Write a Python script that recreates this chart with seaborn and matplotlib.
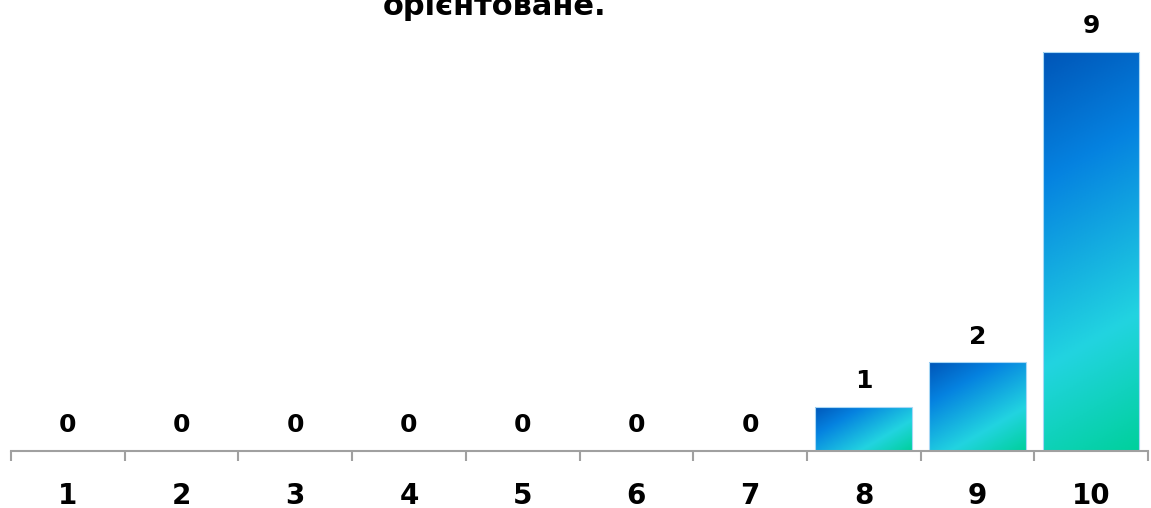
import numpy as np
import pandas as pd
import matplotlib
matplotlib.use("Agg")
import matplotlib.pyplot as plt
import seaborn as sns
from matplotlib.colors import LinearSegmentedColormap

categories = ["1", "2", "3", "4", "5", "6", "7", "8", "9", "10"]
values = [0, 0, 0, 0, 0, 0, 0, 1, 2, 9]
title_text = "орієнтоване."

df = pd.DataFrame({"score": categories, "count": values})

sns.set_style("white")
plt.rcParams["font.family"] = ["DejaVu Sans"]
plt.rcParams["text.color"] = "black"
plt.rcParams["xtick.color"] = "black"

fig = plt.figure(figsize=(11.51, 5.08), dpi=100)
ax = fig.add_axes([11 / 1151, 1 - 451 / 508, (1148 - 11) / 1151, 451 / 508])

sns.barplot(data=df, x="score", y="count", order=categories, ax=ax,
            color="#0080e0", width=0.85, saturation=1)

ax.set_xlim(-0.5, len(categories) - 0.5)
ax.set_ylim(0, 451 / 44.3)

# gradient fill, angled in screen space, stretched to each bar
grad = LinearSegmentedColormap.from_list(
    "g", [(0, "#0056b8"), (0.28, "#0582e0"), (0.7, "#22d4e0"), (1, "#00d09c")])
ang = np.deg2rad(60)
for p in ax.patches:
    h = p.get_height()
    if h <= 0:
        continue
    x0 = p.get_x()
    w = p.get_width()
    (px0, py0), (px1, py1) = ax.transData.transform([(x0, 0), (x0 + w, h)])
    W, H = abs(px1 - px0), abs(py1 - py0)
    xx, yy = np.meshgrid(np.linspace(0, W, 120), np.linspace(0, H, 200))
    t = (xx * np.cos(ang) + yy * np.sin(ang)) / (W * np.cos(ang) + H * np.sin(ang))
    im = ax.imshow(t, cmap=grad, extent=[x0, x0 + w, 0, h], origin="upper",
                   aspect="auto", zorder=p.get_zorder() + 0.1, vmin=0, vmax=1)
    im.set_clip_path(p)
    p.set_edgecolor("#a8d8f5")
    p.set_linewidth(0.8)
    p.set_zorder(p.get_zorder() + 0.2)
    p.set_facecolor("none")

ax.bar_label(ax.containers[0], labels=[str(v) for v in values], padding=10,
             fontsize=18, fontweight="bold", color="black")

ax.set_xlabel("")
ax.set_ylabel("")
ax.set_yticks([])
for s in ["top", "right", "left"]:
    ax.spines[s].set_visible(False)
ax.spines["bottom"].set_color("#a0a0a0")
ax.spines["bottom"].set_linewidth(1.5)
ax.spines["bottom"].set_zorder(5)
ax.set_xticks(np.arange(-0.5, len(categories), 1), minor=True)
ax.tick_params(axis="x", which="minor", length=7, width=1.5, color="#a0a0a0",
               direction="out", bottom=True)
ax.tick_params(axis="x", which="major", length=0, pad=22, labelsize=20,
               labelcolor="black")
for lbl in ax.get_xticklabels():
    lbl.set_fontweight("bold")

fig.text(0.43, 1 - 15 / 508, title_text, ha="center", va="baseline",
         fontsize=22, fontweight="bold")

fig.savefig("out.png", dpi=100)
